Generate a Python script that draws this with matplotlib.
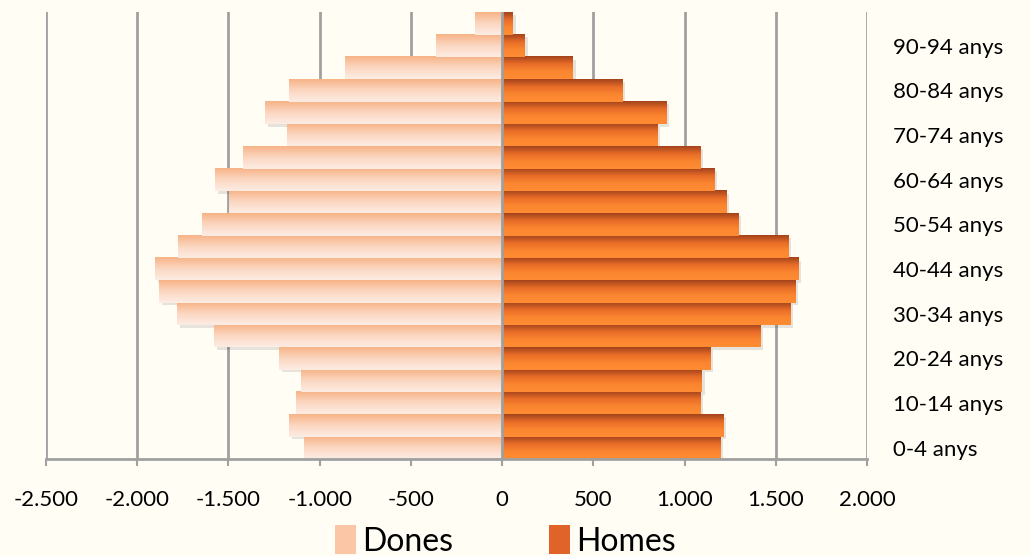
import numpy as np
import matplotlib.pyplot as plt
from matplotlib.colors import LinearSegmentedColormap
from matplotlib.patches import Patch, Rectangle

plt.rcParams["font.family"] = ["Lato", "DejaVu Sans"]

# age groups, youngest first
groups = ["0-4 anys", "5-9 anys", "10-14 anys", "15-19 anys", "20-24 anys",
          "25-29 anys", "30-34 anys", "35-39 anys", "40-44 anys", "45-49 anys",
          "50-54 anys", "55-59 anys", "60-64 anys", "65-69 anys", "70-74 anys",
          "75-79 anys", "80-84 anys", "85-89 anys", "90-94 anys", "95 i més"]
dones = [1086, 1168, 1129, 1102, 1223, 1579, 1782, 1880, 1902, 1776,
         1645, 1497, 1573, 1420, 1179, 1299, 1168, 861, 362, 148]
homes = [1195, 1212, 1086, 1096, 1140, 1414, 1579, 1607, 1623, 1568,
         1294, 1232, 1162, 1086, 850, 899, 658, 389, 126, 60]
xticks = [-2500, -2000, -1500, -1000, -500, 0, 500, 1000, 1500, 2000]
xtick_labels = ["-2.500", "-2.000", "-1.500", "-1.000", "-500", "0",
                "500", "1.000", "1.500", "2.000"]

bg = "#fffdf4"
cmap_dones = LinearSegmentedColormap.from_list("dones", ["#f7b386", "#fbd7c2", "#fdece3"])
cmap_homes = LinearSegmentedColormap.from_list("homes", ["#a3431b", "#e76c27", "#fb8530", "#ff8c33"])
grad = np.linspace(0, 1, 64).reshape(-1, 1)

fig = plt.figure(figsize=(10.31, 5.56), dpi=100, facecolor=bg)
ax = fig.add_axes([0.0446, 0.1745, 0.7964, 0.8035], facecolor=bg)

ypos = np.arange(len(groups))
for y, d, h in zip(ypos, dones, homes):
    for x0, x1, cm in ((-d, 0, cmap_dones), (0, h, cmap_homes)):
        # soft shadow
        ax.add_patch(Rectangle((x0 + 14, y - 0.62), x1 - x0, 1.0,
                               facecolor="#000000", alpha=0.10, linewidth=0, zorder=1))
        ax.imshow(grad, extent=[x0, x1, y - 0.5, y + 0.5], cmap=cm,
                  aspect="auto", origin="upper", zorder=2, interpolation="bilinear")

ax.set_xlim(-2500, 2000)
ax.set_ylim(-0.5, len(groups) - 0.5)

ax.set_xticks(xticks)
ax.set_xticklabels(xtick_labels)
ax.xaxis.grid(True, color="#a0a0a0", linewidth=2)
ax.set_axisbelow(True)
ax.axvline(0, color="#a0a0a0", linewidth=2, zorder=3)

ax.yaxis.tick_right()
ax.set_yticks(ypos[::2])
ax.set_yticklabels(groups[::2])
ax.tick_params(axis="y", length=0, pad=19, labelsize=16)
ax.tick_params(axis="x", length=5, width=1.5, color="#a0a0a0", pad=17, labelsize=16)

for side in ("top", "left", "right"):
    ax.spines[side].set_visible(False)
ax.spines["bottom"].set_color("#a0a0a0")
ax.spines["bottom"].set_linewidth(2)

handles = [Patch(facecolor="#fac6a6", edgecolor="none", label="Dones"),
           Patch(facecolor="#e0642a", edgecolor="none", label="Homes")]
fig.legend(handles=handles, loc="center", bbox_to_anchor=(0.49, 0.027), ncol=2,
           frameon=False, fontsize=23, handlelength=0.65, handleheight=1.0,
           handletextpad=0.2, columnspacing=3.0)

fig.savefig("out.png", dpi=100, facecolor=bg)
